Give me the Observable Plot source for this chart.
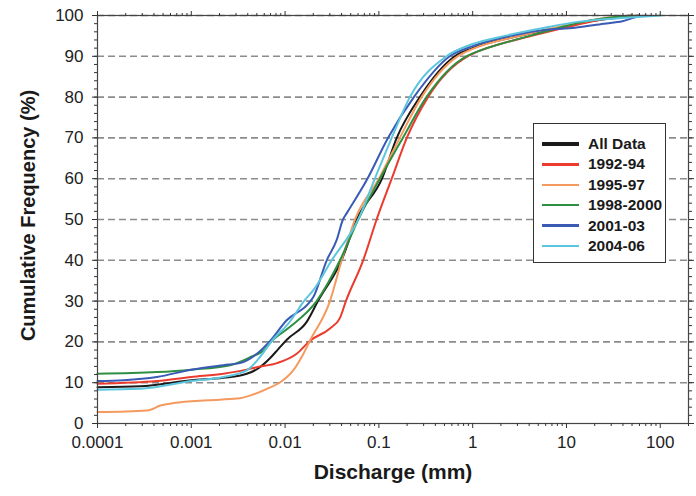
<!DOCTYPE html>
<html><head><meta charset="utf-8">
<script src="https://cdn.jsdelivr.net/npm/d3@7"></script>
<script src="https://cdn.jsdelivr.net/npm/@observablehq/plot@0.6"></script>
<style>
body{margin:0;background:#fff;font-family:"Liberation Sans",Arial,sans-serif;}
#chart{position:relative;width:696px;height:496px;}
#legend{position:absolute;left:533px;top:123px;width:133px;height:140px;border:1px solid #333;background:#fff;box-sizing:border-box;}
.lrow{position:absolute;left:0;height:20px;width:130px;}
.lline{position:absolute;left:8px;width:37px;top:10px;}
.ltext{position:absolute;left:54px;top:0;line-height:20px;font-weight:bold;font-size:15.5px;color:#1a1a1a;white-space:nowrap;font-family:"Liberation Sans",Arial,sans-serif;}
</style></head><body><div id="chart"></div><script>
const seriesNames = ["All Data","1992-94","1995-97","1998-2000","2001-03","2004-06"];
const seriesColors = ["#1a1a1a","#ea3b2e","#f59a5e","#2e8f42","#3a5bb5","#5cc6de"];

const allData = [[0.0001,8.9],[0.000286,9.1],[0.001,10.6],[0.0022,11.2],[0.0039,12.2],[0.005,13.3],[0.0069,16.0],[0.0085,18.3],[0.0105,20.6],[0.017,24.9],[0.0224,30],[0.040,40],[0.058,50],[0.108,60],[0.155,70],[0.273,80],[0.644,90],[1.0,92],[3.16,95],[8.43,97],[17.6,98.5],[36.6,99.5],[60,100]];
const data9294 = [[0.0001,9.75],[0.00043,10.4],[0.001,11.4],[0.0022,12.2],[0.0039,13.2],[0.005,13.8],[0.0082,14.8],[0.0133,17.1],[0.0185,20.3],[0.0301,23.3],[0.0385,25.9],[0.0445,30],[0.068,40],[0.0946,50],[0.137,60],[0.1985,70],[0.334,80],[0.885,90],[1.0,90.6],[4.24,95],[9.53,97],[18.4,98.5],[32,99.5],[50,100]];
const data9597 = [[0.0001,2.8],[0.00034,3.2],[0.00047,4.4],[0.00065,5.0],[0.0015,5.7],[0.0031,6.1],[0.0043,6.9],[0.0064,8.5],[0.0089,10.1],[0.0122,13.0],[0.0157,17.1],[0.0185,20.4],[0.0301,30],[0.0401,40],[0.0556,50],[0.100,60],[0.167,70],[0.285,80],[0.692,90],[1.0,91.8],[3.16,95],[7.45,97],[15.5,98.5],[28,99.5],[55,100]];
const data9800 = [[0.0001,12.2],[0.00043,12.6],[0.001,13.2],[0.0026,14.3],[0.0043,16.3],[0.0059,17.9],[0.0072,20.2],[0.0113,23.7],[0.0217,30],[0.0385,40],[0.0603,50],[0.1025,60],[0.180,70],[0.321,80],[0.857,90],[1.0,90.7],[4.04,95],[8.43,97],[15.5,98.5],[30,99.5],[50,100]];
const data0103 = [[0.0001,10.4],[0.00019,10.6],[0.00043,11.4],[0.001,13.2],[0.0022,14.3],[0.0033,14.8],[0.005,17.1],[0.0069,20.2],[0.0104,25.3],[0.0177,29.4],[0.020,31],[0.0278,40],[0.0355,45],[0.0414,50],[0.0453,51.5],[0.0755,60],[0.125,70],[0.236,80],[0.569,90],[1.0,92.5],[2.48,95],[6.0,96.5],[12.3,97],[25,98],[39.4,98.6],[59.8,99.8],[70,100]];
const data0406 = [[0.0001,8.3],[0.000286,8.5],[0.001,10.4],[0.0022,11.4],[0.0039,13.0],[0.0054,16.3],[0.0072,20.2],[0.0113,25],[0.0159,30],[0.020,32.7],[0.0314,40],[0.0603,50],[0.0906,60],[0.137,70],[0.214,80],[0.525,90],[1.0,93],[2.19,95],[5.83,97],[13.7,98.5],[46.8,99.5],[100,100]];

const majorX = [0.0001,0.001,0.01,0.1,1,10,100];
const majorY = [0,10,20,30,40,50,60,70,80,90,100];
const gridLevels = [10,20,30,40,50,60,70,80,90,100];

const seriesData = [allData,data9294,data9597,data9800,data0103,data0406];
const rows = seriesData.flatMap((arr,i) => arr.map(([x,y]) => ({series: seriesNames[i], x, y})));
const minorX = majorX.flatMap(d => [2,3,4,5,6,7,8,9].map(k => d*k)).filter(v => v <= 200);
const minorY = d3.range(0, 101, 2);

const axisCommon = {label: null, stroke: "#333", strokeWidth: 1};
const plot = Plot.plot({
  width: 696, height: 496,
  marginLeft: 97, marginRight: 8, marginTop: 15, marginBottom: 73,
  style: {fontFamily: "'Liberation Sans', Arial, sans-serif", fontSize: "17px", color: "#222", background: "#fff"},
  x: {type: "log", domain: [0.0001, 200]},
  y: {domain: [0, 100]},
  color: {domain: seriesNames, range: seriesColors},
  marks: [
    Plot.gridY(gridLevels, {stroke: "#8c8c8c", strokeOpacity: 1, strokeWidth: 1.6, strokeDasharray: "7,4"}),
    Plot.line(rows, {x: "x", y: "y", z: "series", stroke: "series", strokeWidth: 2, curve: "monotone-x"}),
    Plot.frame({stroke: "#444", strokeWidth: 1.2}),
    Plot.axisX({...axisCommon, ticks: majorX, anchor: "bottom", tickSize: 5, tickPadding: 7, tickFormat: d => String(d)}),
    Plot.axisX({...axisCommon, ticks: minorX, anchor: "bottom", tickSize: 3, tickFormat: () => ""}),
    Plot.axisX({...axisCommon, ticks: majorX, anchor: "top", tickSize: 5, tickFormat: () => ""}),
    Plot.axisX({...axisCommon, ticks: minorX, anchor: "top", tickSize: 3, tickFormat: () => ""}),
    Plot.axisY({...axisCommon, ticks: majorY, anchor: "left", tickSize: 5, tickPadding: 9, tickFormat: d => String(d)}),
    Plot.axisY({...axisCommon, ticks: minorY, anchor: "left", tickSize: 3, tickFormat: () => ""}),
    Plot.axisY({...axisCommon, ticks: majorY, anchor: "right", tickSize: 5, tickFormat: () => ""}),
    Plot.axisY({...axisCommon, ticks: minorY, anchor: "right", tickSize: 3, tickFormat: () => ""}),
    Plot.text(["Discharge (mm)"], {text: d => d, frameAnchor: "bottom", dy: 55, fontWeight: "bold", fontSize: 21, fill: "#1a1a1a"}),
    Plot.text(["Cumulative Frequency (%)"], {text: d => d, frameAnchor: "left", textAnchor: "middle", dx: -69, dy: -4, rotate: -90, fontWeight: "bold", fontSize: 20, fill: "#1a1a1a"})
  ]
});
const chart = document.getElementById("chart");
chart.appendChild(plot);

const legend = document.createElement("div");
legend.id = "legend";
seriesNames.forEach((name, i) => {
  const row = document.createElement("div");
  row.className = "lrow";
  row.style.top = (10 + i * 20.4) + "px";
  const line = document.createElement("div");
  line.className = "lline";
  const w = i === 0 ? 3.2 : 2.6;
  line.style.height = w + "px";
  line.style.marginTop = (-w/2) + "px";
  line.style.background = seriesColors[i];
  const txt = document.createElement("div");
  txt.className = "ltext";
  txt.textContent = name;
  row.appendChild(line); row.appendChild(txt);
  legend.appendChild(row);
});
chart.appendChild(legend);
</script></body></html>
